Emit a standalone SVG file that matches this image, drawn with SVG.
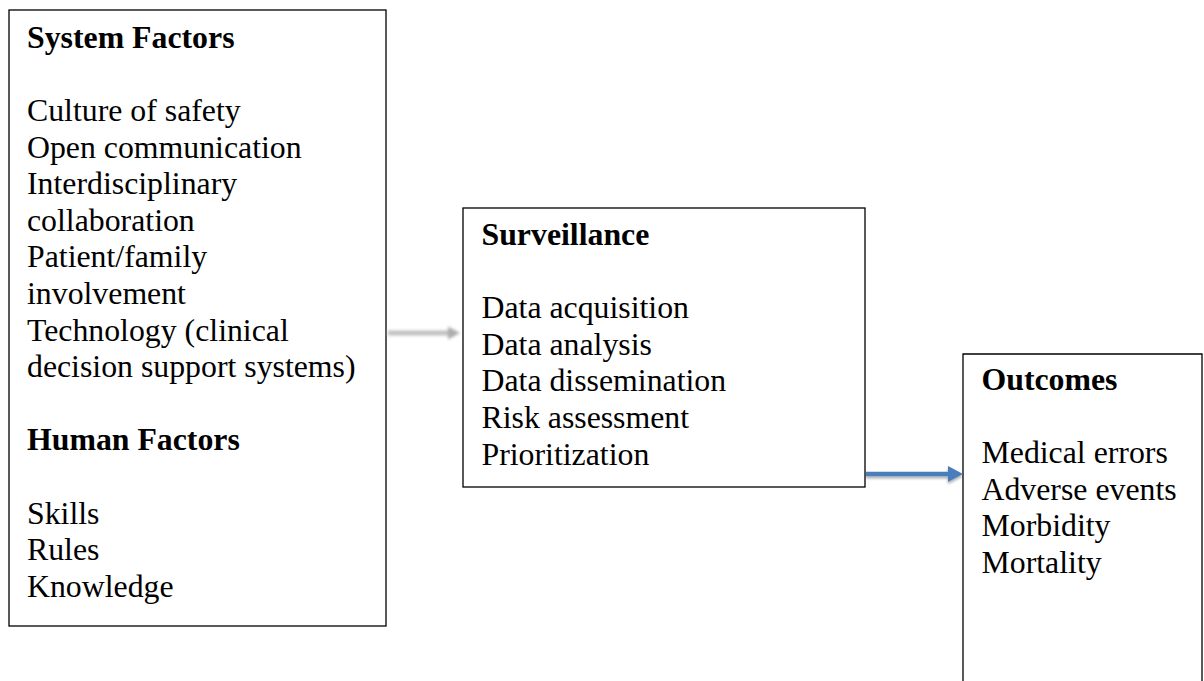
<svg xmlns="http://www.w3.org/2000/svg" width="1204" height="681" viewBox="0 0 1204 681">
  <style>
    .box { fill: #ffffff; stroke: #000000; stroke-width: 1.3; }
    .t { font-family: "Liberation Serif", "Times New Roman", serif; font-size: 31.8px; fill: #000000; }
    .h { font-weight: bold; }
  </style>
  <defs>
    <filter id="soft" x="-20%" y="-200%" width="140%" height="500%">
      <feGaussianBlur stdDeviation="1.5"/>
    </filter>
    <filter id="shadow" x="-20%" y="-200%" width="140%" height="500%">
      <feGaussianBlur in="SourceAlpha" stdDeviation="1.5"/>
      <feOffset dx="0" dy="2" result="b"/>
      <feComponentTransfer><feFuncA type="linear" slope="0.35"/></feComponentTransfer>
      <feMerge><feMergeNode/><feMergeNode in="SourceGraphic"/></feMerge>
    </filter>
  </defs>
  <rect width="1204" height="681" fill="#ffffff"/>

  <g id="system-factors">
    <rect class="box" x="9" y="10" width="377" height="616"/>
    <text class="t h" x="27" y="48">System Factors</text>
    <text class="t" x="27" y="121">Culture of safety</text>
    <text class="t" x="27" y="157.6">Open communication</text>
    <text class="t" x="27" y="194.2">Interdisciplinary</text>
    <text class="t" x="27" y="230.8">collaboration</text>
    <text class="t" x="27" y="267.4">Patient/family</text>
    <text class="t" x="27" y="304">involvement</text>
    <text class="t" x="27" y="340.6">Technology (clinical</text>
    <text class="t" x="27" y="377.2">decision support systems)</text>
    <text class="t h" x="27" y="450.4">Human Factors</text>
    <text class="t" x="27" y="523.6">Skills</text>
    <text class="t" x="27" y="560.2">Rules</text>
    <text class="t" x="27" y="596.8">Knowledge</text>
  </g>

  <g id="surveillance">
    <rect class="box" x="463" y="208" width="402" height="279"/>
    <text class="t h" x="481.5" y="245">Surveillance</text>
    <text class="t" x="481.5" y="318.2">Data acquisition</text>
    <text class="t" x="481.5" y="354.8">Data analysis</text>
    <text class="t" x="481.5" y="391.4">Data dissemination</text>
    <text class="t" x="481.5" y="428">Risk assessment</text>
    <text class="t" x="481.5" y="464.6">Prioritization</text>
  </g>

  <g id="outcomes">
    <path class="box" d="M963,690 V354 H1202 V690"/>
    <text class="t h" x="981.5" y="390">Outcomes</text>
    <text class="t" x="981.5" y="463.2">Medical errors</text>
    <text class="t" x="981.5" y="499.8">Adverse events</text>
    <text class="t" x="981.5" y="536.4">Morbidity</text>
    <text class="t" x="981.5" y="573">Mortality</text>
  </g>

  <g id="connectors">
    <!-- faded grey link from factors to surveillance -->
    <g filter="url(#soft)">
      <line x1="388" y1="333" x2="452" y2="333" stroke="#c0c0c0" stroke-width="5"/>
      <path d="M448,326.5 L460,333 L448,339.5 Z" fill="#acacac"/>
    </g>
    <!-- blue link from surveillance to outcomes -->
    <g filter="url(#shadow)">
      <line x1="866" y1="474" x2="951" y2="474" stroke="#4a7ebb" stroke-width="4.5"/>
      <path d="M948,466 L963,474 L948,482 Z" fill="#4a7ebb"/>
    </g>
  </g>
</svg>
